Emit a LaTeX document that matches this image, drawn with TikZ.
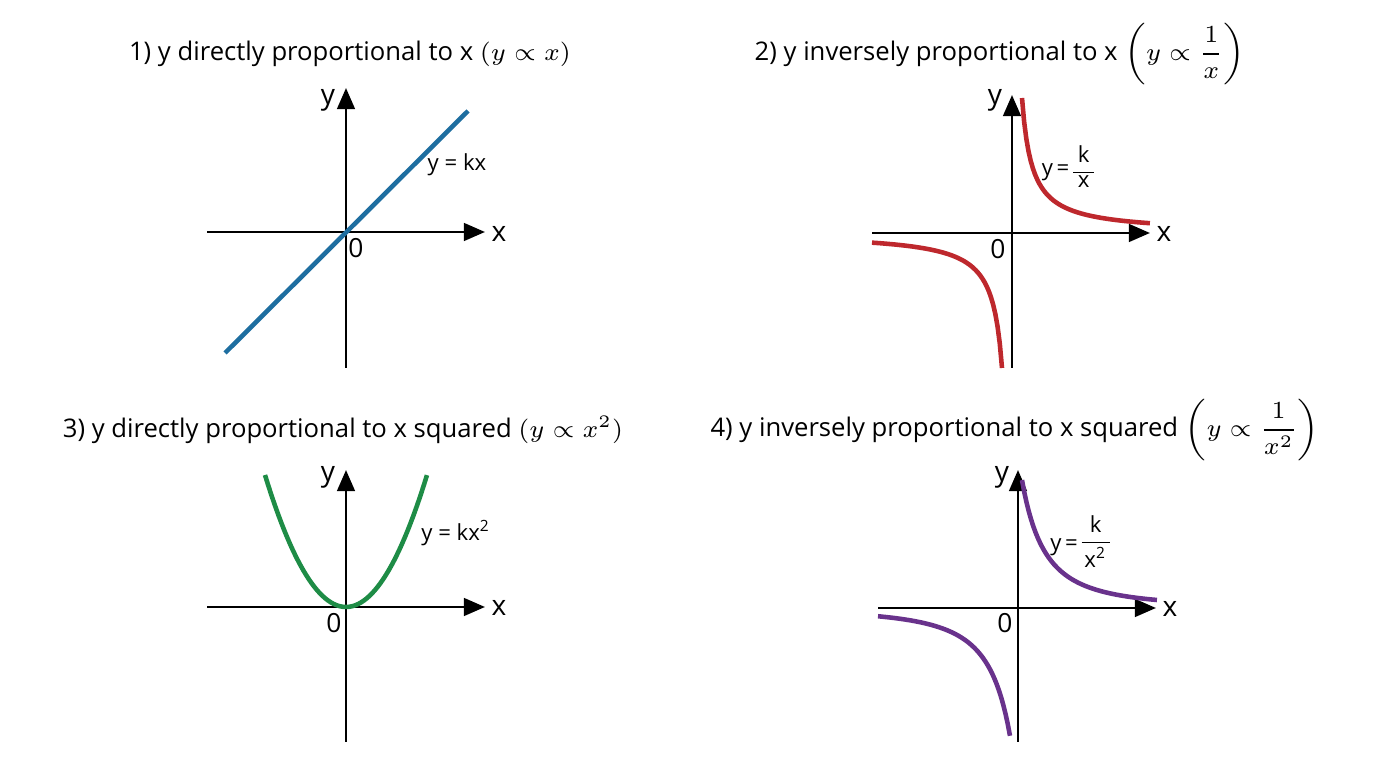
\documentclass[tikz,border=0pt]{standalone}
\usepackage{amsmath}
\usepackage{fontspec}
\setmainfont{Open Sans}
\usetikzlibrary{arrows.meta}
\definecolor{lineblue}{RGB}{30,110,160}
\definecolor{linered}{RGB}{190,40,45}
\definecolor{linegreen}{RGB}{30,140,70}
\definecolor{linepurple}{RGB}{105,50,140}
\tikzset{
  axis/.style = {line width=0.8pt, -{Triangle[length=6pt,width=5pt]}},
  graph/.style = {line width=1.3pt},
  title/.style = {font=\fontsize{7.3}{9}\selectfont},
  lab/.style = {font=\fontsize{6.3}{7}\selectfont, inner sep=1pt},
}
\begin{document}
\begin{tikzpicture}
\useasboundingbox (0,0) rectangle (13.76,7.68);

% panel 1
\node[title] (t1) at (3.50,7.14) {1) y directly proportional to x $(y\propto x)$};
\draw[axis] (2.07,5.36) -- (4.85,5.36);
\draw[axis] (3.46,4.00) -- (3.46,6.80);
\draw[graph,lineblue] (2.25,4.15) -- (4.68,6.57);
\node[lab] (x1) at (4.99,5.34) {\fontsize{8}{9}\selectfont x};
\node[lab] (y1) at (3.28,6.68) {\fontsize{8}{9}\selectfont y};
\node[lab] (o1) at (3.56,5.20) {\fontsize{7.5}{9}\selectfont 0};
\node[lab] (f1) at (4.57,6.03) {y = kx};

% panel 2
\node[title] (t2) at (10.00,7.14) {2) y inversely proportional to x $\left(y\propto\dfrac{1}{x}\right)$};
\draw[axis] (8.72,5.35) -- (11.50,5.35);
\draw[axis] (10.12,4.00) -- (10.12,6.73);
\draw[graph,linered] plot[domain=0.10:1.38,samples=60] ({10.12+\x},{5.35+0.135/\x});
\draw[graph,linered] plot[domain=-1.40:-0.10,samples=60] ({10.12+\x},{5.35+0.135/\x});
\node[lab] (x2) at (11.64,5.34) {\fontsize{8}{9}\selectfont x};
\node[lab] (y2) at (9.95,6.68) {\fontsize{8}{9}\selectfont y};
\node[lab] (o2) at (9.98,5.19) {\fontsize{7.5}{9}\selectfont 0};
\node[lab] (f2) at (10.68,5.98) {y\,=\,\begin{tabular}{@{}c@{}}k\\[-4pt]\rule{6pt}{0.3pt}\\[-3pt]x\end{tabular}};

% panel 3
\node[title] (t3) at (3.43,3.38) {3) y directly proportional to x squared $(y\propto x^2)$};
\draw[axis] (2.07,1.61) -- (4.85,1.61);
\draw[axis] (3.46,0.26) -- (3.46,2.98);
\draw[graph,linegreen] plot[domain=-0.81:0.81,samples=60] ({3.46+\x},{1.61+1.32*(\x/0.81)^2});
\node[lab] (x3) at (4.99,1.60) {\fontsize{8}{9}\selectfont x};
\node[lab] (y3) at (3.28,2.91) {\fontsize{8}{9}\selectfont y};
\node[lab] (o3) at (3.34,1.45) {\fontsize{7.5}{9}\selectfont 0};
\node[lab] (f3) at (4.56,2.35) {y = kx\textsuperscript{2}};

% panel 4
\node[title] (t4) at (10.15,3.38) {4) y inversely proportional to x squared $\left(y\propto\dfrac{1}{x^2}\right)$};
\draw[axis] (8.78,1.60) -- (11.56,1.60);
\draw[axis] (10.18,0.26) -- (10.18,2.98);
\draw[graph,linepurple] plot[domain=0.04:1.39,samples=60] ({10.18+\x},{1.60+0.259/(\x+0.41)^2});
\draw[graph,linepurple] plot[domain=-1.40:-0.08,samples=60] ({10.18+\x},{1.60-0.259/(-\x+0.37)^2});
\node[lab] (x4) at (11.70,1.59) {\fontsize{8}{9}\selectfont x};
\node[lab] (y4) at (10.02,2.91) {\fontsize{8}{9}\selectfont y};
\node[lab] (o4) at (10.05,1.45) {\fontsize{7.5}{9}\selectfont 0};
\node[lab] (f4) at (10.80,2.23) {y\,=\,\begin{tabular}{@{}c@{}}k\\[-4pt]\rule{8pt}{0.3pt}\\[-1pt]x\textsuperscript{2}\end{tabular}};
\end{tikzpicture}
\end{document}
